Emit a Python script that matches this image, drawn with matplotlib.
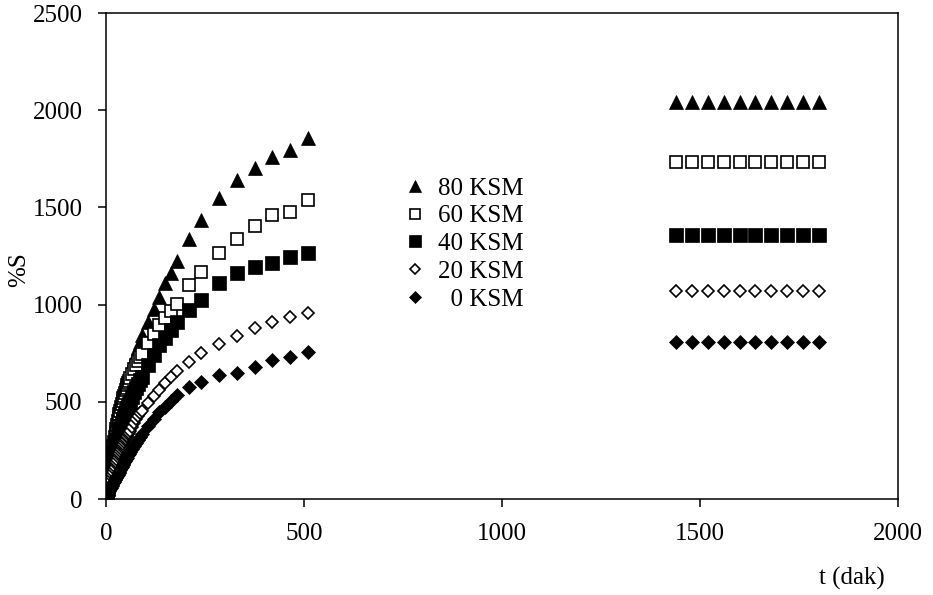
import matplotlib
matplotlib.use("Agg")
import matplotlib.pyplot as plt
from matplotlib.lines import Line2D

plt.rcParams['font.family'] = ['Liberation Serif', 'DejaVu Serif']
plt.rcParams['font.size'] = 18

# time (min) of the kinetic measurements
t_kinetic = [0, 2, 4, 6, 8, 10, 12, 14, 16, 18, 20, 22, 24, 26, 28, 30,
             32, 34, 36, 38, 40, 42, 44, 46, 48, 50, 52, 54, 56, 58, 60,
             65, 70, 75, 80, 85, 90,
             105, 120, 135, 150, 165, 180, 210, 240, 285, 330, 375, 420,
             465, 510]
# equilibrium readings
t_equil = [1440, 1480, 1520, 1560, 1600, 1640, 1680, 1720, 1760, 1800]

# swelling %S for each KSM content
s80 = [0, 45, 85, 120, 150, 180, 210, 238, 263, 287, 310, 332, 354, 375,
       395, 415, 435, 455, 474, 492, 510, 526, 542, 558, 574, 590, 604, 618,
       631, 643, 655,
       690, 720, 750, 780, 810, 845,
       910, 975, 1040, 1110, 1165, 1225, 1335, 1435, 1547, 1641, 1701, 1761,
       1795, 1857]
s60 = [0, 38, 73, 105, 136, 165, 194, 221, 247, 272, 295, 317, 339, 360,
       380, 400, 418, 436, 454, 472, 490, 504, 518, 532, 546, 560, 572, 584,
       596, 608, 620,
       645, 670, 690, 710, 728, 745,
       800, 850, 895, 930, 965, 1003, 1101, 1169, 1264, 1336, 1404, 1461,
       1478, 1538]
s40 = [0, 27, 53, 77, 101, 125, 147, 169, 190, 210, 230, 248, 266, 284,
       302, 320, 334, 348, 362, 376, 390, 402, 414, 426, 438, 450, 460, 470,
       480, 490, 500,
       525, 548, 570, 590, 610, 630,
       690, 740, 790, 830, 870, 912, 972, 1024, 1110, 1161, 1192, 1216,
       1247, 1264]
s20 = [0, 18, 36, 53, 69, 85, 99, 113, 127, 141, 155, 167, 179, 191,
       203, 215, 225, 235, 245, 255, 265, 275, 285, 294, 302, 310, 318, 326,
       334, 342, 350,
       372, 392, 410, 428, 442, 455,
       495, 530, 560, 595, 628, 660, 706, 749, 797, 838, 878, 912,
       938, 958]
s0 = [0, 10, 20, 30, 40, 50, 58, 66, 74, 82, 90, 98, 106, 113,
      119, 125, 133, 141, 149, 157, 165, 173, 181, 189, 197, 205, 212, 219,
      226, 233, 240,
      257, 274, 290, 305, 320, 335,
      375, 410, 445, 475, 505, 535, 578, 603, 638, 650, 681, 715,
      732, 758]

eq80 = [2040] * 10
eq60 = [1735] * 10
eq40 = [1358] * 10
eq20 = [1072] * 10
eq0 = [808] * 10

labels = ["80 KSM", "60 KSM", "40 KSM", "20 KSM", "  0 KSM"]

styles = [
    dict(marker='^', ms=10.5, mfc='black', mec='black', mew=0.5),
    dict(marker='s', ms=8.9, mfc='white', mec='black', mew=1.2),
    dict(marker='s', ms=9.6, mfc='black', mec='black', mew=0.5),
    dict(marker='D', ms=6.3, mfc='white', mec='black', mew=1.2),
    dict(marker='D', ms=7.0, mfc='black', mec='black', mew=0.5),
]

fig = plt.figure(figsize=(9.33, 5.95), dpi=100)
ax = fig.add_axes([106 / 933, 96 / 595, 792 / 933, 486 / 595])

series = [(s80, eq80), (s60, eq60), (s40, eq40), (s20, eq20), (s0, eq0)]
# series are drawn in legend order, each one on top of the previous
for (kin, eq), st in zip(series, styles):
    ax.plot(t_kinetic, kin, linestyle='none', **st)
    ax.plot(t_equil, eq, linestyle='none', **st)

ax.set_xlim(0, 2000)
ax.set_ylim(0, 2500)
ax.set_xticks([0, 500, 1000, 1500, 2000])
ax.set_yticks([0, 500, 1000, 1500, 2000, 2500])
for sp in ax.spines.values():
    sp.set_linewidth(1.1)
ax.tick_params(direction='out', length=6, width=1.1, pad=11, labelsize=18,
               top=False, right=False)

fig.text(19 / 933, 1 - 270 / 595, "%S", rotation=90, ha='center', va='center',
         fontsize=18)
fig.text(852 / 933, 1 - 578 / 595, "t (dak)", ha='center', va='center',
         fontsize=18)

handles = [Line2D([], [], linestyle='none', **st) for st in styles]
leg = ax.legend(handles, labels, loc='upper left',
                bbox_to_anchor=(0.362, 0.688), frameon=False, fontsize=18,
                handlelength=0.8, handletextpad=0.5, labelspacing=0.21,
                markerscale=0.85, borderpad=0.0)

fig.savefig("out.png", dpi=100)
